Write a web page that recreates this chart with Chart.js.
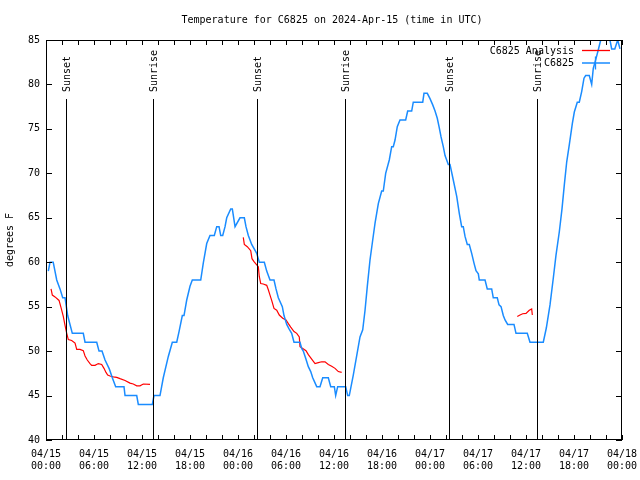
<!DOCTYPE html>
<html><head><meta charset="utf-8">
<script src="https://cdn.jsdelivr.net/npm/chart.js"></script>
<style>html,body{margin:0;padding:0;background:#fff}</style>
</head><body>
<canvas id="c" width="640" height="480"></canvas>
<script>
const titleText = 'Temperature for C6825 on 2024-Apr-15 (time in UTC)';
const yAxisTitle = 'degrees F';
const xTickDates = ['04/15','04/15','04/15','04/15','04/16','04/16','04/16','04/16','04/17','04/17','04/17','04/17','04/18'];
const xTickTimes = ['00:00','06:00','12:00','18:00','00:00','06:00','12:00','18:00','00:00','06:00','12:00','18:00','00:00'];
const seriesNames = ['C6825 Analysis', 'C6825'];
const eventHours = [2.45, 13.41, 26.42, 37.43, 50.42, 61.35];
const eventLabels = ['Sunset','Sunrise','Sunset','Sunrise','Sunset','Sunrise'];

// observations: hours since 04/15 00:00 UTC, deg F
const obsHours = [0.29,0.5,0.9,1.34,1.75,2.09,2.38,2.71,3.0,3.29,4.66,4.88,6.34,6.63,7.0,7.38,7.91,8.29,8.71,9.75,9.88,11.34,11.54,13.29,13.5,14.25,
14.66,15.29,15.79,16.34,16.63,17.04,17.25,17.59,18.0,18.29,19.34,19.66,20.09,20.5,21.04,21.34,21.63,21.84,22.09,22.38,22.59,23.09,23.29,23.63,24.25,24.79,25.0,25.29,25.71,26.34,26.66,27.29,27.59,28.0,28.5,28.75,29.04,29.54,29.75,30.09,30.38,30.71,31.0,31.75,31.96,32.16,32.46,32.79,33.09,33.34,33.84,34.25,34.59,35.29,35.59,36.04,36.21,36.46,37.46,37.71,37.91,
38.41,38.84,39.25,39.59,39.88,40.16,40.5,40.84,41.13,41.54,41.96,42.16,42.46,42.91,43.21,43.41,43.63,43.91,44.25,44.96,45.21,45.71,45.91,47.09,47.25,47.66,48.0,48.34,48.63,48.91,49.13,49.38,49.66,49.88,50.29,50.5,
50.91,51.34,51.66,51.96,52.16,52.38,52.66,52.91,53.21,53.5,53.75,54.04,54.16,54.88,55.16,55.71,55.91,56.41,56.63,56.88,57.16,57.38,57.71,58.5,58.75,60.16,60.5,62.16,62.54,63.0,63.41,63.75,64.16,64.5,64.79,65.09,65.41,65.79,66.04,66.41,66.66,66.96,67.25,67.46,67.91,68.21,68.41,68.75,69.04,69.34,69.6,70.2,70.45,70.71,71.1,71.46,71.75];
const obsTemps = [59,60,60,58,57,56,56,54,53,52,52,51,51,50,50,49,48,47,46,46,45,45,44,44,45,45,
47,49.4,51,51,52.2,54,54,55.75,57.3,58,58,59.9,62.1,63,63,64,64,63,63,64,65,66,66,64,65,65,64,63,62,61,60,60,59,58,58,57,56,55,54,53,52.5,52,51,51,50.3,50,49.2,48.25,47.7,47,46,46,47,47,46,46,45,46,46,45,45,
47.3,49.5,51.6,52.4,54.6,57.25,60.25,62.5,64.4,66.6,68,68,70,71.5,73,73,73.75,75.25,76,76,77,77,78,78,79,79,78.4,77.7,77,76.2,75.25,74.1,73,72,71,71,
69.25,67.4,65.5,64,64,62.9,62,62,61,59.9,59.05,58.7,58,58,57,57,56,56,55.2,55,54,53.5,53,53,52,52,51,51,52.6,55.2,58.2,60.8,63.4,66,68.7,71.3,73.2,75.6,76.9,78,78,79.2,80.7,81,81,80,81.8,82.9,83.9,85,86,86,85.2,84,84,85,84];

// analysis (null = gap)
const anaHours = [0.63,0.79,1.13,1.63,1.88,2.16,2.38,2.59,2.79,3.21,3.63,3.84,4.25,4.66,4.88,5.16,5.5,5.71,6.13,6.54,6.96,7.25,7.5,7.71,8.0,8.41,8.84,9.25,9.88,10.5,10.91,11.34,11.75,12.16,13.0,
null,
24.66,24.79,25.16,25.59,25.75,26.0,26.34,26.54,26.66,26.84,27.16,27.59,27.79,28.0,28.21,28.5,28.84,29.16,29.59,30.0,30.29,30.59,31.0,31.34,31.66,31.75,32.09,32.5,32.79,33.21,33.63,34.04,34.46,34.88,35.29,35.71,36.13,36.54,36.96,
null,
58.91,59.25,59.59,60.0,60.41,60.71,60.79];
const anaTemps = [57,56.3,56.1,55.7,54.9,53.9,52.9,52,51.3,51.2,50.9,50.2,50.2,50.05,49.45,49.0,48.6,48.4,48.4,48.6,48.5,48.06,47.6,47.3,47.2,47.1,47.05,46.9,46.7,46.4,46.3,46.1,46.1,46.3,46.25,
null,
62.8,62.0,61.75,61.3,60.4,60.06,59.7,59.5,58.4,57.6,57.55,57.4,56.9,56.3,55.7,54.8,54.6,54.06,53.7,53.5,53.1,52.7,52.2,52.0,51.6,50.5,50.3,50.05,49.6,49.1,48.6,48.7,48.8,48.8,48.5,48.3,48.06,47.7,47.6,
null,
53.9,54.06,54.2,54.25,54.6,54.75,54.06];

const RED = '#ff0000', BLUE = '#1a8cff';
const FONT = "'DejaVu Sans Mono', 'Liberation Mono', monospace";
Chart.defaults.font.family = FONT;
Chart.defaults.font.size = 10;
Chart.defaults.color = '#000';

const toPts = (xs, ys) => xs.map((x, i) => (x === null ? {x: null, y: null} : {x: x, y: ys[i]}));

const decor = {
  id: 'decor',
  afterDatasetsDraw(chart) {
    const ctx = chart.ctx, a = chart.chartArea;
    const xs = chart.scales.x, ys = chart.scales.y;
    ctx.save();
    ctx.strokeStyle = '#000'; ctx.lineWidth = 1;
    // event lines
    ctx.font = '10px ' + FONT; ctx.fillStyle = '#000';
    eventHours.forEach((h, i) => {
      const px = Math.round(xs.getPixelForValue(h)) + 0.5;
      ctx.beginPath(); ctx.moveTo(px, a.top + 59); ctx.lineTo(px, a.bottom); ctx.stroke();
      ctx.save(); ctx.translate(px + 0.5, a.top + 52); ctx.rotate(-Math.PI / 2);
      ctx.textAlign = 'left'; ctx.textBaseline = 'middle';
      ctx.fillText(eventLabels[i], 0, 0); ctx.restore();
    });
    // border
    ctx.strokeRect(a.left + 0.5, a.top + 0.5, a.right - a.left - 1, a.bottom - a.top - 1);
    // inward ticks
    ctx.beginPath();
    for (let h = xs.min; h <= xs.max; h += 2) {
      const px = Math.round(xs.getPixelForValue(h)) + 0.5;
      ctx.moveTo(px, a.bottom); ctx.lineTo(px, a.bottom - 5);
      ctx.moveTo(px, a.top); ctx.lineTo(px, a.top + 5);
    }
    for (let v = ys.min; v <= ys.max; v += 5) {
      const py = Math.round(ys.getPixelForValue(v)) + 0.5;
      ctx.moveTo(a.left, py); ctx.lineTo(a.left + 6, py);
      ctx.moveTo(a.right, py); ctx.lineTo(a.right - 6, py);
    }
    ctx.stroke();
    // legend
    const colors = [RED, BLUE];
    seriesNames.forEach((name, i) => {
      const ly = a.top + 10 + i * 12.5;
      ctx.fillStyle = '#000'; ctx.textAlign = 'right'; ctx.textBaseline = 'middle';
      ctx.fillText(name, a.right - 48, ly + 1);
      ctx.strokeStyle = colors[i]; ctx.lineWidth = 1.3;
      ctx.beginPath(); ctx.moveTo(a.right - 40, ly + 0.5); ctx.lineTo(a.right - 12, ly + 0.5);
      if (i === 1) { ctx.moveTo(a.right - 26.5, ly - 6); ctx.lineTo(a.right - 26.5, ly + 7); }
      ctx.stroke();
    });
    // title
    ctx.fillStyle = '#000'; ctx.textAlign = 'center'; ctx.textBaseline = 'middle';
    ctx.fillText(titleText, 332, 20);
    ctx.restore();
  }
};

new Chart(document.getElementById('c'), {
  type: 'line',
  data: {
    datasets: [
      { label: seriesNames[0], data: toPts(anaHours, anaTemps), borderColor: RED, borderWidth: 1.2, pointRadius: 0, spanGaps: false, tension: 0, order: 1 },
      { label: seriesNames[1], data: toPts(obsHours, obsTemps), borderColor: BLUE, borderWidth: 1.5, pointRadius: 0, tension: 0, order: 0 }
    ]
  },
  options: {
    responsive: false, animation: false, devicePixelRatio: 1,
    layout: { padding: { left: 0, right: 18, top: 40, bottom: 0 } },
    plugins: { legend: { display: false }, tooltip: { enabled: false }, title: { display: false } },
    scales: {
      x: {
        type: 'linear', min: 0, max: 72,
        grid: { display: false, drawTicks: false },
        border: { display: false },
        ticks: {
          stepSize: 6, autoSkip: false, maxRotation: 0, padding: 8,
          callback: (v) => { const i = Math.round(v / 6); return [xTickDates[i], xTickTimes[i]]; }
        },
        afterFit: (s) => { s.height = 40; s.paddingLeft = 0; s.paddingRight = 0; }
      },
      y: {
        min: 40, max: 85,
        grid: { display: false, drawTicks: false },
        border: { display: false },
        ticks: { stepSize: 5, padding: 6 },
        title: { display: true, text: yAxisTitle, padding: { top: 4, bottom: 4 } },
        afterFit: (s) => { s.width = 46; s.paddingTop = 0; s.paddingBottom = 0; }
      }
    }
  },
  plugins: [decor]
});
</script>
</body></html>
